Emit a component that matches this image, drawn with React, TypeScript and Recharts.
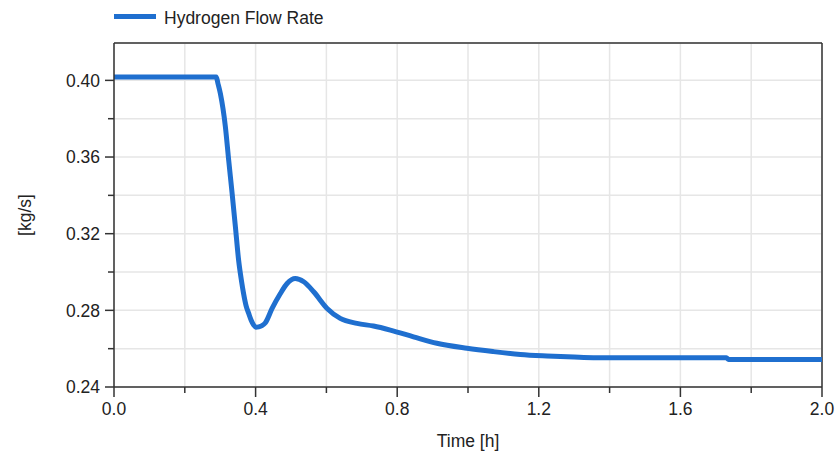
import React from "react";
import { LineChart, Line, XAxis, YAxis, CartesianGrid, Legend, ReferenceLine } from "recharts";

const timeH = [0, 0.289, 0.2935, 0.3006, 0.3147, 0.324, 0.3337, 0.343, 0.352, 0.36, 0.366, 0.373, 0.3805, 0.3875, 0.3946, 0.401, 0.4088, 0.418, 0.4277, 0.4466, 0.47, 0.489, 0.512, 0.536, 0.564, 0.602, 0.639, 0.6865, 0.733, 0.7805, 0.846, 0.912, 0.997, 1.07, 1.148, 1.223, 1.3, 1.354, 1.73, 1.736, 2.0];
const flowRate = [0.4017, 0.4017, 0.3985, 0.393, 0.3757, 0.3583, 0.341, 0.3235, 0.3062, 0.2955, 0.2888, 0.2825, 0.2784, 0.2748, 0.2723, 0.2712, 0.2714, 0.272, 0.2735, 0.281, 0.2888, 0.294, 0.2966, 0.2949, 0.2897, 0.281, 0.2758, 0.2732, 0.2718, 0.2697, 0.2662, 0.2628, 0.2602, 0.2585, 0.257, 0.2562, 0.2556, 0.2553, 0.2553, 0.2544, 0.2544];

const xTicks = [0, 0.2, 0.4, 0.6, 0.8, 1.0, 1.2, 1.4, 1.6, 1.8, 2.0];
const yTicks = [0.24, 0.26, 0.28, 0.3, 0.32, 0.34, 0.36, 0.38, 0.4];
const xDomain = [0, 2];
const yDomain = [0.24, 0.4195];

const seriesName = "Hydrogen Flow Rate";
const xLabel = "Time [h]";
const yLabel = "[kg/s]";

const data = timeH.map((t, i) => ({ t, flow: flowRate[i] }));

const FONT = '"Liberation Sans", Arial, sans-serif';
const TEXT = "#222";
const AXIS = "#333";
const BLUE = "#1f6fcf";
const FS = 17.5;

const isMajorX = (v: number) => Math.round(v * 10) % 4 === 0;
const isMajorY = (v: number) => Math.round(v * 100) % 4 === 0;

const XTick = (props: any) => {
  const { x, y, payload } = props;
  const major = isMajorX(payload.value);
  return (
    <g>
      <line x1={x} x2={x} y1={y} y2={y + (major ? 10 : 6)} stroke={AXIS} strokeWidth={1.5} />
      {major && (
        <text x={x} y={y + 28} textAnchor="middle" fill={TEXT} fontSize={FS} fontFamily={FONT}>
          {Number(payload.value).toFixed(1)}
        </text>
      )}
    </g>
  );
};

const YTick = (props: any) => {
  const { x, y, payload } = props;
  const major = isMajorY(payload.value);
  return (
    <g>
      <line x1={x - (major ? 9 : 6)} x2={x} y1={y} y2={y} stroke={AXIS} strokeWidth={1.5} />
      {major && (
        <text x={x - 14} y={y} dy="0.36em" textAnchor="end" fill={TEXT} fontSize={FS} fontFamily={FONT}>
          {Number(payload.value).toFixed(2)}
        </text>
      )}
    </g>
  );
};

const YLabelContent = (props: any) => {
  const vb = props.viewBox || { x: 0, y: 0, width: 0, height: 0 };
  const cx = vb.x + 25;
  const cy = vb.y + vb.height / 2;
  return (
    <text x={cx} y={cy} dy="0.36em" transform={`rotate(-90 ${cx} ${cy})`} textAnchor="middle" fill={TEXT} fontSize={FS} fontFamily={FONT}>
      {yLabel}
    </text>
  );
};

const XLabelContent = (props: any) => {
  const vb = props.viewBox || { x: 0, y: 0, width: 0, height: 0 };
  return (
    <text x={vb.x + vb.width / 2} y={vb.y + 60} textAnchor="middle" fill={TEXT} fontSize={FS} fontFamily={FONT}>
      {xLabel}
    </text>
  );
};

const LegendContent = () => (
  <div style={{ position: "relative", height: 0, overflow: "visible" }}>
    <div style={{ position: "absolute", left: 114, top: 14, width: 42, height: 5, background: BLUE }} />
    <div style={{ position: "absolute", left: 164, top: 10, lineHeight: "17px", fontSize: FS, fontFamily: FONT, color: TEXT, whiteSpace: "nowrap" }}>
      {seriesName}
    </div>
  </div>
);

export default function App() {
  return (
    <div style={{ position: "absolute", left: 0, top: 0, width: 836, height: 453, background: "#fff" }}>
      <LineChart width={836} height={453} data={data} margin={{ top: 43, right: 14, bottom: 0, left: 0 }}>
        <CartesianGrid stroke="#e6e6e6" strokeWidth={1.5} />
        <XAxis
          dataKey="t"
          type="number"
          domain={xDomain}
          ticks={xTicks}
          allowDataOverflow
          height={66}
          tickSize={0}
          tickMargin={0}
          tickLine={false}
          tick={<XTick />}
          axisLine={{ stroke: AXIS, strokeWidth: 1.5 }}
          label={{ value: xLabel, content: XLabelContent }}
          interval={0}
        />
        <YAxis
          type="number"
          domain={yDomain}
          ticks={yTicks}
          allowDataOverflow
          width={114}
          tickSize={0}
          tickMargin={0}
          tickLine={false}
          tick={<YTick />}
          axisLine={{ stroke: AXIS, strokeWidth: 1.5 }}
          label={{ value: yLabel, content: YLabelContent }}
          interval={0}
        />
        <ReferenceLine y={yDomain[1]} stroke={AXIS} strokeWidth={1.5} />
        <ReferenceLine x={xDomain[1]} stroke={AXIS} strokeWidth={1.5} />
        <Legend verticalAlign="top" align="left" wrapperStyle={{ top: 0, left: 0, width: 836, height: 0 }} content={LegendContent} />
        <Line type="monotone" dataKey="flow" name={seriesName} stroke={BLUE} strokeWidth={5} strokeLinejoin="round" dot={false} isAnimationActive={false} />
      </LineChart>
    </div>
  );
}
